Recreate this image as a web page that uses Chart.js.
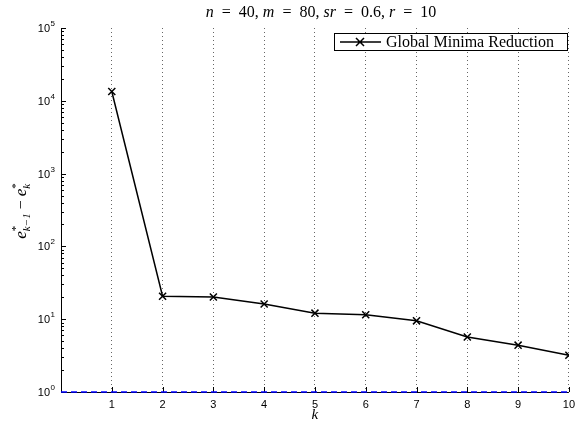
<!DOCTYPE html>
<html lang="en">
<head>
<meta charset="UTF-8">
<title>Global Minima Reduction</title>
<style>
  body { margin: 0; background: #fff; }
  canvas { display: block; }
</style>
</head>
<body>
<canvas id="chart" width="581" height="427"></canvas>
<script src="https://cdn.jsdelivr.net/npm/chart.js"></script>
<script>
// data
const kValues = [1, 2, 3, 4, 5, 6, 7, 8, 9, 10];
const reduction = [13400, 20.7, 20.2, 16.2, 12.1, 11.5, 9.5, 5.7, 4.4, 3.2];
const baselineK = [0, 10];
const baselineValue = [1, 1];
const yExponents = [0, 1, 2, 3, 4, 5];
const legendLabel = 'Global Minima Reduction';

const SERIF = '"Liberation Serif", "DejaVu Serif", serif';
const SANS = '"Liberation Sans", Arial, sans-serif';

// draws a list of text runs, sup/sub stacked where asked
function drawRuns(ctx, runs, x, y, align) {
  let total = 0, last = 0;
  runs.forEach(r => {
    ctx.font = r.font;
    r.w = ctx.measureText(r.text).width;
  });
  runs.forEach(r => {
    if (r.stack) { last = r.w; return; }
    total += Math.max(r.w, last);
    last = 0;
  });
  let cx = align === 'center' ? x - total / 2 : x;
  last = 0;
  runs.forEach(r => {
    ctx.font = r.font;
    ctx.fillText(r.text, cx, y + (r.dy || 0));
    if (r.stack) { last = r.w; return; }
    cx += Math.max(r.w, last);
    last = 0;
  });
}

const axes = {
  id: 'axes',
  beforeDatasetsDraw(chart) {
    const ctx = chart.ctx;
    const ya = chart.scales.y, xa = chart.scales.x;
    const area = chart.chartArea;
    ctx.save();
    ctx.strokeStyle = '#000';
    ctx.lineWidth = 1;
    ctx.beginPath();
    ctx.moveTo(area.left + 0.5, area.top);
    ctx.lineTo(area.left + 0.5, area.bottom + 0.5);
    ctx.lineTo(area.right, area.bottom + 0.5);
    // inward ticks, major and minor
    yExponents.forEach(e => {
      const base = Math.pow(10, e);
      const py = Math.round(ya.getPixelForValue(base)) + 0.5;
      ctx.moveTo(area.left, py); ctx.lineTo(area.left + 5, py);
      if (e < 5) {
        for (let m = 2; m <= 9; m++) {
          const my = Math.round(ya.getPixelForValue(base * m)) + 0.5;
          ctx.moveTo(area.left, my); ctx.lineTo(area.left + 3, my);
        }
      }
    });
    kValues.forEach(k => {
      const px = Math.round(xa.getPixelForValue(k)) + 0.5;
      ctx.moveTo(px, area.bottom); ctx.lineTo(px, area.bottom - 5);
    });
    ctx.stroke();
    ctx.restore();
  }
};

const decor = {
  id: 'decor',
  afterDraw(chart) {
    const ctx = chart.ctx;
    const ya = chart.scales.y, xa = chart.scales.x;
    const area = chart.chartArea;
    ctx.save();
    ctx.fillStyle = '#000';
    ctx.strokeStyle = '#000';
    ctx.textBaseline = 'alphabetic';
    ctx.textAlign = 'left';

    // y tick labels 10^n
    yExponents.forEach(e => {
      const py = ya.getPixelForValue(Math.pow(10, e));
      ctx.font = '11px ' + SANS;
      const w = ctx.measureText('10').width;
      ctx.fillText('10', 50 - w, py + 4);
      ctx.font = '8px ' + SANS;
      ctx.fillText(String(e), 50.5, py - 2);
    });

    // title
    const f = '16px ' + SERIF, fi = 'italic 16px ' + SERIF;
    drawRuns(ctx, [
      { text: 'n', font: fi }, { text: '  =  40, ', font: f },
      { text: 'm', font: fi }, { text: '  =  80, ', font: f },
      { text: 'sr', font: fi }, { text: '  =  0.6, ', font: f },
      { text: 'r', font: fi }, { text: '  =  10', font: f }
    ], 321, 17, 'center');

    // x label
    ctx.font = 'italic 15px ' + SERIF;
    ctx.textAlign = 'center';
    ctx.fillText('k', xa.getPixelForValue(5), 419);
    ctx.textAlign = 'left';

    // y label rotated
    ctx.save();
    ctx.translate(26, (area.top + area.bottom) / 2 + 1);
    ctx.rotate(-Math.PI / 2);
    const ei = 'italic 17px ' + SERIF, s = '11px ' + SERIF, si = 'italic 11px ' + SERIF;
    drawRuns(ctx, [
      { text: 'e', font: ei },
      { text: '*', font: s, dy: -7, stack: true },
      { text: 'k\u22121', font: si, dy: 4 },
      { text: ' \u2212 ', font: '16px ' + SERIF },
      { text: 'e', font: ei },
      { text: '*', font: s, dy: -7, stack: true },
      { text: 'k', font: si, dy: 4 }
    ], 0, 0, 'center');
    ctx.restore();

    // legend box
    const lx = 334, ly = 33, lw = 233, lh = 17;
    ctx.fillStyle = '#fff';
    ctx.fillRect(lx, ly, lw, lh);
    ctx.lineWidth = 1;
    ctx.strokeRect(lx + 0.5, ly + 0.5, lw, lh);
    ctx.beginPath();
    ctx.lineWidth = 1.5;
    ctx.moveTo(lx + 6, ly + 9); ctx.lineTo(lx + 47, ly + 9);
    ctx.moveTo(lx + 22, ly + 5); ctx.lineTo(lx + 30, ly + 13);
    ctx.moveTo(lx + 30, ly + 5); ctx.lineTo(lx + 22, ly + 13);
    ctx.stroke();
    ctx.fillStyle = '#000';
    ctx.font = '16px ' + SERIF;
    ctx.fillText(legendLabel, lx + 52, ly + 14);
    ctx.restore();
  }
};

new Chart(document.getElementById('chart'), {
  type: 'line',
  data: {
    datasets: [
      {
        label: legendLabel,
        data: kValues.map((k, i) => ({ x: k, y: reduction[i] })),
        borderColor: '#000',
        backgroundColor: '#000',
        borderWidth: 1.5,
        pointStyle: 'crossRot',
        pointRadius: 5,
        pointBorderWidth: 1.5,
        pointBorderColor: '#000',
        tension: 0
      },
      {
        label: 'baseline',
        data: baselineK.map((k, i) => ({ x: k, y: baselineValue[i] })),
        borderColor: '#0000ff',
        borderWidth: 1.5,
        borderDash: [6, 4],
        pointRadius: 0,
        clip: false
      }
    ]
  },
  options: {
    responsive: false,
    animation: false,
    layout: { padding: { left: 0, right: 8, top: 28, bottom: 0 } },
    plugins: {
      legend: { display: false },
      tooltip: { enabled: false },
      title: { display: false }
    },
    scales: {
      x: {
        type: 'linear',
        min: 0,
        max: 10,
        afterFit: s => { s.height = 35; },
        border: { display: false, dash: [1, 3] },
        grid: {
          drawTicks: false,
          color: c => (c.tick && c.tick.value === 0 ? 'rgba(0,0,0,0)' : '#666'),
          lineWidth: 1
        },
        ticks: {
          stepSize: 1,
          padding: 6,
          color: '#000',
          font: { family: SANS, size: 11 },
          callback: v => (v === 0 ? '' : v)
        }
      },
      y: {
        type: 'logarithmic',
        min: 1,
        max: 100000,
        afterFit: s => { s.width = 61; },
        border: { display: false },
        grid: { display: false, drawTicks: false },
        ticks: { display: false }
      }
    }
  },
  plugins: [axes, decor]
});
</script>
</body>
</html>
